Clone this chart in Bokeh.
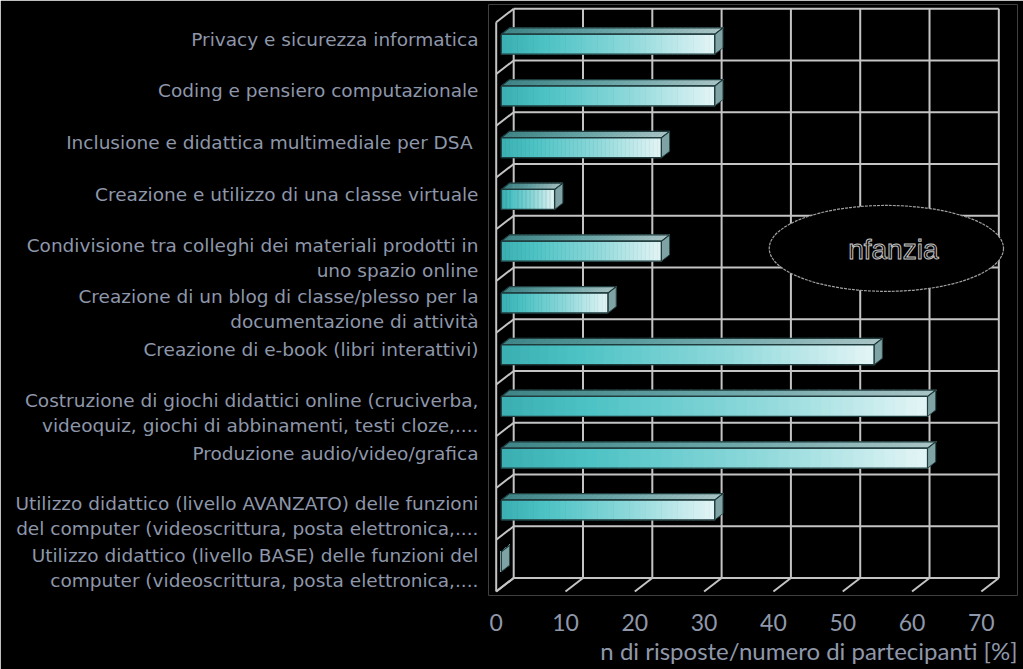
from bokeh.plotting import figure
from bokeh.models import Range1d, FixedTicker, Title
from bokeh.embed import file_html
from bokeh.resources import INLINE
from bokeh.core.properties import value

# ---------------- data (top to bottom as shown) ----------------
categories = [
    "Privacy e sicurezza informatica",
    "Coding e pensiero computazionale",
    "Inclusione e didattica multimediale per DSA ",
    "Creazione e utilizzo di una classe virtuale",
    "Condivisione tra colleghi dei materiali prodotti in\nuno spazio online",
    "Creazione di un blog di classe/plesso per la\ndocumentazione di attività",
    "Creazione di e-book (libri interattivi)",
    "Costruzione di giochi didattici online (cruciverba,\nvideoquiz, giochi di abbinamenti, testi cloze,....",
    "Produzione audio/video/grafica",
    "Utilizzo didattico (livello AVANZATO) delle funzioni\ndel computer (videoscrittura, posta elettronica,....",
    "Utilizzo didattico (livello BASE) delle funzioni del\ncomputer (videoscrittura, posta elettronica,....",
]
values = [30.8, 30.8, 23.1, 7.7, 23.1, 15.4, 53.8, 61.5, 61.5, 30.8, 0.0]
x_ticks = [0, 10, 20, 30, 40, 50, 60, 70]
x_title = "n di risposte/numero di partecipanti [%]"
inset_label = "nfanzia"

# ---------------- styling / 3D geometry ----------------
n = len(categories)
DX, DY = 2.525, 0.261        # depth of the 3D box (value units, category units)
D0, D1 = 0.29, 0.76          # bar depth span (fraction of box depth)
H = 0.193                    # half height of bar front face
NSLICE = 40
GRID = "#c4c4c4"
LABEL = "#8e97aa"

def hex2rgb(h):
    h = h.lstrip("#")
    return tuple(int(h[i:i + 2], 16) for i in (0, 2, 4))

def lerp(c0, c1, t):
    a, b = hex2rgb(c0), hex2rgb(c1)
    return "#%02x%02x%02x" % tuple(int(round(a[i] + (b[i] - a[i]) * t)) for i in range(3))

def grad(t, stops):
    for (t0, c0), (t1, c1) in zip(stops, stops[1:]):
        if t <= t1:
            return lerp(c0, c1, (t - t0) / (t1 - t0) if t1 > t0 else 0)
    return stops[-1][1]

FRONT_STOPS = [(0.0, "#3aaeb1"), (0.2, "#4cc2c4"), (0.6, "#8dd8da"), (1.0, "#e4f5f6")]
TOP_STOPS = [(0.0, "#3f8587"), (0.5, "#6aa6a8"), (1.0, "#a9c4c5")]

p = figure(width=1023, height=669, output_backend="svg", toolbar_location=None,
           x_range=Range1d(-1.111, 75.22), y_range=Range1d(-0.0773, 11.343),
           min_border_left=488, min_border_right=6, min_border_top=4, min_border_bottom=74)
p.background_fill_color = "black"
p.border_fill_color = "black"
p.outline_line_color = None
p.xgrid.visible = False
p.ygrid.visible = False

# ---------------- 3D box: back wall, left wall, floor ----------------
xmax = x_ticks[-1]
for t in x_ticks:
    p.line([t + DX, t + DX], [DY, n + DY], line_color=GRID, line_width=2)
    p.line([t, t + DX], [0, DY], line_color=GRID, line_width=2)
for k in range(n + 1):
    p.line([DX, xmax + DX], [k + DY, k + DY], line_color=GRID, line_width=2)
    p.line([0, DX], [k, k + DY], line_color=GRID, line_width=2)
p.line([0, 0], [0, n], line_color=GRID, line_width=2)

# ---------------- bars ----------------
ddx, ddy = (D1 - D0) * DX, (D1 - D0) * DY
fx, fy, fc = [], [], []
tx, ty, tc = [], [], []
sx, sy = [], []
ox, oy = [], []
for i, (cat, v) in enumerate(zip(categories, values)):
    k = n - 1 - i
    yc = k + 0.5 + D0 * DY
    x0 = D0 * DX
    x1 = x0 + v
    yb, yt = yc - H, yc + H
    for j in range(NSLICE):
        a = x0 + v * j / NSLICE
        b = x0 + v * (j + 1) / NSLICE + (v * 0.002)
        t = (j + 0.5) / NSLICE
        fx.append([a, b, b, a]); fy.append([yb, yb, yt, yt]); fc.append(grad(t, FRONT_STOPS))
        tx.append([a, b, b + ddx, a + ddx]); ty.append([yt, yt, yt + ddy, yt + ddy]); tc.append(grad(t, TOP_STOPS))
    sx.append([x1, x1 + ddx, x1 + ddx, x1]); sy.append([yb, yb + ddy, yt + ddy, yt])
    ox.append([x0, x1, x1, x0]); oy.append([yb, yb, yt, yt])
    ox.append([x0, x1, x1 + ddx, x0 + ddx]); oy.append([yt, yt, yt + ddy, yt + ddy])

p.patches(fx, fy, fill_color=fc, line_color=fc, line_width=0.5)
p.patches(tx, ty, fill_color=tc, line_color=tc, line_width=0.5)
p.patches(sx, sy, fill_color="#7fa3a4", line_color="#2a4748", line_width=1)
p.patches(ox, oy, fill_color=None, line_color="#1f3b3c", line_width=1.2)

# ---------------- inset ellipse label ----------------
p.ellipse(x=[56.3], y=[6.63], width=33.8, height=1.66, fill_color="black",
          line_color="#a0a0a0", line_width=1.2, line_dash="3 1")
p.text(x=[57.3], y=[6.6], text=[inset_label], text_align="center", text_baseline="middle",
       text_font=value("Liberation Sans"), text_font_size="28px", text_color="#050505",
       text_outline_color="#c4c4c4")

# ---------------- axes ----------------
yt_pos, overrides = [], {}
for i, cat in enumerate(categories):
    k = n - 1 - i
    pos = k + 0.5 + (0.174 if "\n" not in cat else -0.048)
    yt_pos.append(pos)
    overrides[pos] = cat
p.yaxis.ticker = FixedTicker(ticks=yt_pos)
p.yaxis.major_label_overrides = overrides
p.yaxis.major_tick_line_color = None
p.yaxis.minor_tick_line_color = None
p.yaxis.axis_line_color = None
p.yaxis.major_tick_out = 0
p.yaxis.major_label_standoff = 10
p.yaxis.major_label_text_font = "DejaVu Sans"
p.yaxis.major_label_text_font_size = "18.5px"
p.yaxis.major_label_text_color = LABEL

p.xaxis.ticker = FixedTicker(ticks=x_ticks)
p.xaxis.major_tick_line_color = None
p.xaxis.minor_tick_line_color = None
p.xaxis.axis_line_color = None
p.xaxis.major_tick_out = 0
p.xaxis.major_label_standoff = 18
p.xaxis.major_label_text_font = "Lato"
p.xaxis.major_label_text_font_size = "23px"
p.xaxis.major_label_text_color = "#8f98aa"

title = Title(text=x_title, align="right", text_font="Lato", text_font_size="24px",
              text_font_style="normal", text_color="#8f98aa", standoff=0)
p.add_layout(title, "below")

open("out.html", "w").write(file_html(p, INLINE))
